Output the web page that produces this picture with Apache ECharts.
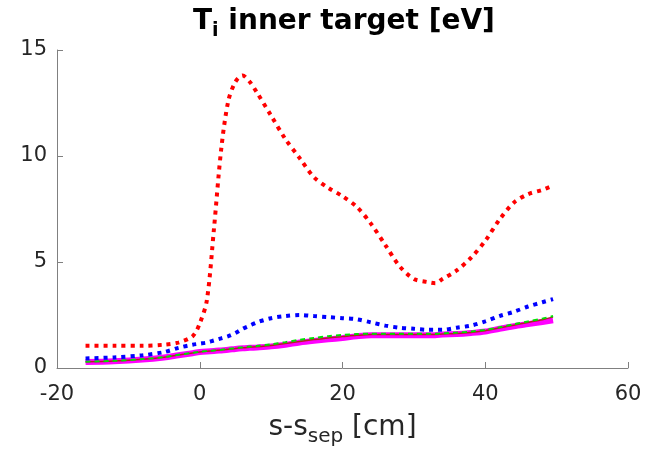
<!DOCTYPE html>
<html>
<head>
<meta charset="utf-8">
<script src="https://cdn.jsdelivr.net/npm/echarts@6/dist/echarts.min.js"></script>
<style>
  html, body { margin: 0; padding: 0; background: #fff; }
  #main { width: 648px; height: 456px; }
</style>
</head>
<body>
<div id="main"></div>
<script>
// s - s_sep positions [cm]
const xs = [-16, -12, -8, -5, -3, -1, 0, 1, 2, 3, 4, 5, 6, 7, 8, 10, 12, 14, 16, 18, 20, 22, 24, 26, 28, 30, 32, 33, 34, 36, 38, 40, 42, 44, 46, 48, 49.5]
const redDotted = [1.05, 1.05, 1.05, 1.1, 1.2, 1.5, 2.1, 3.2, 6.6, 10.3, 12.6, 13.5, 13.8, 13.5, 13.0, 11.9, 10.8, 9.9, 9.0, 8.5, 8.1, 7.6, 6.8, 5.8, 4.8, 4.2, 4.05, 4.0, 4.2, 4.6, 5.2, 6.0, 7.0, 7.8, 8.2, 8.4, 8.6]
const blueDotted = [0.45, 0.5, 0.6, 0.75, 0.95, 1.1, 1.15, 1.2, 1.3, 1.4, 1.5, 1.65, 1.85, 2.0, 2.15, 2.35, 2.45, 2.5, 2.45, 2.4, 2.35, 2.3, 2.15, 2.0, 1.9, 1.85, 1.8, 1.8, 1.8, 1.9, 2.0, 2.2, 2.45, 2.65, 2.9, 3.1, 3.25]
const greenDashed = [0.3, 0.34, 0.42, 0.52, 0.62, 0.72, 0.77, 0.8, 0.83, 0.86, 0.9, 0.94, 0.98, 1.01, 1.04, 1.12, 1.22, 1.33, 1.42, 1.5, 1.56, 1.6, 1.62, 1.62, 1.62, 1.62, 1.62, 1.62, 1.64, 1.67, 1.72, 1.8, 1.92, 2.06, 2.2, 2.33, 2.45]
const darkRed = [0.29, 0.33, 0.41, 0.51, 0.61, 0.71, 0.76, 0.79, 0.82, 0.85, 0.88, 0.92, 0.95, 0.98, 1.0, 1.06, 1.15, 1.25, 1.34, 1.42, 1.48, 1.54, 1.58, 1.58, 1.58, 1.58, 1.58, 1.58, 1.6, 1.63, 1.68, 1.76, 1.89, 2.02, 2.15, 2.28, 2.4]
const magenta = [0.28, 0.32, 0.4, 0.5, 0.6, 0.7, 0.75, 0.78, 0.8, 0.83, 0.86, 0.9, 0.93, 0.95, 0.97, 1.02, 1.1, 1.2, 1.28, 1.35, 1.42, 1.5, 1.55, 1.55, 1.55, 1.55, 1.55, 1.55, 1.58, 1.6, 1.65, 1.72, 1.85, 1.97, 2.07, 2.17, 2.25]

const pairs = ys => xs.map((x, i) => [x, ys[i]])

const axisFont = { fontFamily: 'DejaVu Sans', fontSize: 21, color: '#262626' }
const axisLine = { show: true, onZero: false, lineStyle: { color: '#808080', width: 1 } }

const chart = echarts.init(document.getElementById('main'), null, { renderer: 'canvas' })
chart.setOption({
  animation: false,
  title: {
    text: '{t|T}{s|i}{t| inner target [eV]}',
    left: 188,
    top: -2,
    textStyle: {
      rich: {
        t: { fontFamily: 'DejaVu Sans', fontWeight: 'bold', fontSize: 28, color: '#000' },
        s: { fontFamily: 'DejaVu Sans', fontWeight: 'bold', fontSize: 19, color: '#000', padding: [19, 0, 0, 0] }
      }
    }
  },
  grid: { left: 57, right: 20, top: 50, bottom: 88, outerBoundsMode: 'none', containLabel: false },
  xAxis: {
    type: 'value', min: -20, max: 60, interval: 20,
    axisLine, axisTick: { inside: true, length: 6, lineStyle: { color: '#808080' } },
    splitLine: { show: false },
    axisLabel: { ...axisFont, margin: 16 },
    name: '{n|s-s}{s|sep}{n| [cm]}',
    nameLocation: 'middle', nameGap: 40,
    nameTextStyle: {
      rich: {
        n: { fontFamily: 'DejaVu Sans', fontSize: 28, color: '#262626' },
        s: { fontFamily: 'DejaVu Sans', fontSize: 20, color: '#262626', padding: [19, 0, 0, 0] }
      }
    }
  },
  yAxis: {
    type: 'value', min: 0, max: 15, interval: 5,
    axisLine, axisTick: { inside: true, length: 6, lineStyle: { color: '#808080' } },
    splitLine: { show: false },
    axisLabel: { ...axisFont, margin: 10 }
  },
  series: [
    { type: 'line', data: pairs(magenta), smooth: 0.3, symbol: 'none', lineStyle: { color: '#ff00ff', width: 6 }, z: 2 },
    { type: 'line', data: pairs(darkRed), smooth: 0.3, symbol: 'none', lineStyle: { color: '#b22222', width: 1.5 }, z: 3 },
    { type: 'line', data: pairs(greenDashed), smooth: 0.3, symbol: 'none', lineStyle: { color: '#00e000', width: 2, type: [5, 4] }, z: 3 },
    { type: 'line', data: pairs(blueDotted), smooth: 0.3, symbol: 'none', lineStyle: { color: '#0000ff', width: 4, type: [4, 5], cap: 'butt' }, z: 4 },
    { type: 'line', data: pairs(redDotted), smooth: 0.3, symbol: 'none', lineStyle: { color: '#ff0000', width: 4, type: [4, 5], cap: 'butt' }, z: 5 }
  ]
})
</script>
</body>
</html>
